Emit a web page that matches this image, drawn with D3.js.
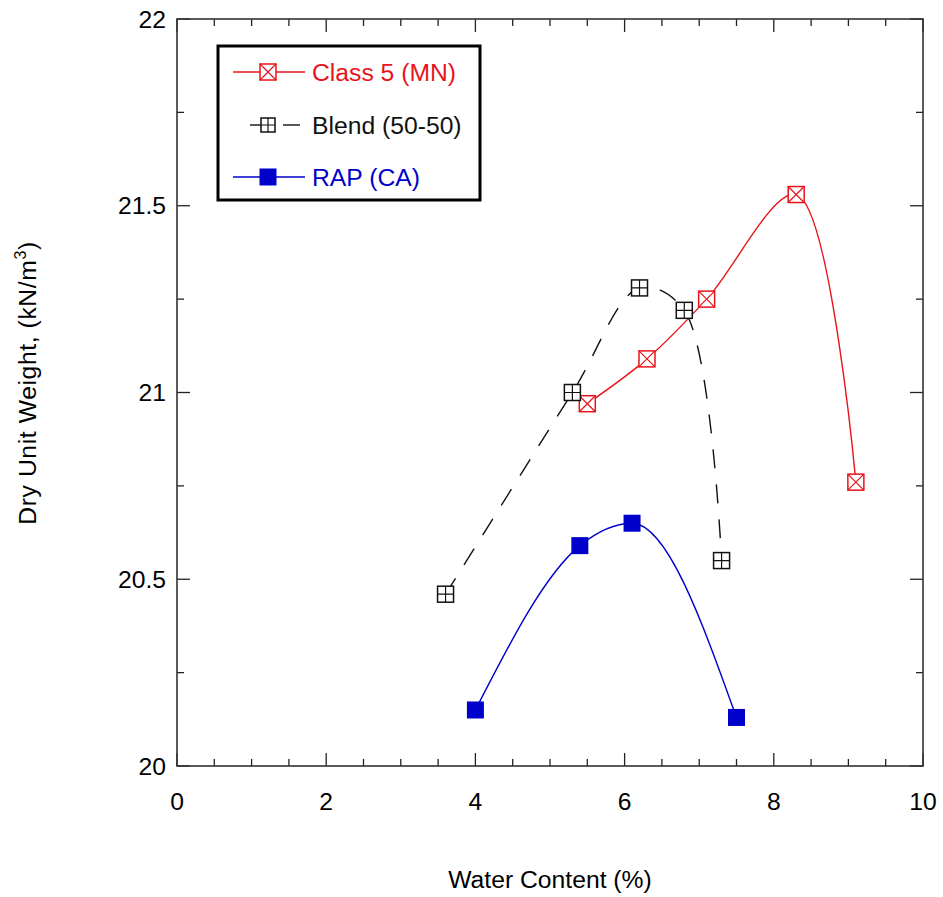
<!DOCTYPE html>
<html><head><meta charset="utf-8">
<script src="https://cdn.jsdelivr.net/npm/d3@7"></script>
<style>body{margin:0;background:#fff}svg{display:block}text{font-family:"Liberation Sans",Arial,sans-serif}</style>
</head><body><svg id="c" width="943" height="897"></svg>
<script>
const class5X = [5.5, 6.3, 7.1, 8.3, 9.1];
const class5Y = [20.97, 21.09, 21.25, 21.53, 20.76];
const blendX = [3.6, 5.3, 6.2, 6.8, 7.3];
const blendY = [20.46, 21.0, 21.28, 21.22, 20.55];
const rapX = [4.0, 5.4, 6.1, 7.5];
const rapY = [20.15, 20.59, 20.65, 20.13];
const xTicks = [0, 2, 4, 6, 8, 10];
const yTicks = [20, 20.5, 21, 21.5, 22];
const seriesNames = ["Class 5 (MN)", "Blend (50-50)", "RAP (CA)"];

const svg = d3.select("#c");
const L = 177, R = 923, T = 19, B = 766;
const x = d3.scaleLinear().domain([0, 10]).range([L, R]);
const y = d3.scaleLinear().domain([20, 22]).range([B, T]);
const FS = 24.7;

// ticks
const g = svg.append("g");
const minorX = d3.range(0, 10.001, 0.5), minorY = d3.range(20, 22.001, 0.25);
minorX.forEach(v => {
  const major = Math.abs(v / 2 - Math.round(v / 2)) < 1e-6;
  const len = major ? 13 : 7;
  g.append("line").attr("x1", x(v)).attr("x2", x(v)).attr("y1", B).attr("y2", B - len).attr("stroke", "#222").attr("stroke-width", 1.3);
  g.append("line").attr("x1", x(v)).attr("x2", x(v)).attr("y1", T).attr("y2", T + len).attr("stroke", "#222").attr("stroke-width", 1.3);
});
minorY.forEach(v => {
  const major = Math.abs(v * 2 - Math.round(v * 2)) < 1e-6;
  const len = major ? 13 : 7;
  g.append("line").attr("y1", y(v)).attr("y2", y(v)).attr("x1", L).attr("x2", L + len).attr("stroke", "#222").attr("stroke-width", 1.3);
  g.append("line").attr("y1", y(v)).attr("y2", y(v)).attr("x1", R).attr("x2", R - len).attr("stroke", "#222").attr("stroke-width", 1.3);
});
svg.append("rect").attr("x", L).attr("y", T).attr("width", R - L).attr("height", B - T)
  .attr("fill", "none").attr("stroke", "#333").attr("stroke-width", 1.6);

// tick labels
xTicks.forEach(v => svg.append("text").attr("x", x(v)).attr("y", 810).attr("text-anchor", "middle")
  .attr("font-size", FS).text(d3.format("d")(v)));
yTicks.forEach(v => svg.append("text").attr("x", 166).attr("y", y(v) + 8.5).attr("text-anchor", "end")
  .attr("font-size", FS).text(v));

svg.append("text").attr("x", 550).attr("y", 888).attr("text-anchor", "middle").attr("font-size", FS).text("Water Content (%)");
const yt = svg.append("text").attr("transform", "translate(36,383) rotate(-90)").attr("text-anchor", "middle").attr("font-size", FS).attr("letter-spacing", 0.6);
yt.append("tspan").text("Dry Unit Weight,  (kN/m");
yt.append("tspan").attr("font-size", 16).attr("dy", -10).text("3");
yt.append("tspan").attr("dy", 10).text(")");

const red = "#e8141b", blue = "#0000cc", black = "#111";
const zip = (a, b) => a.map((v, i) => [v, b[i]]);
const mk = c => d3.line().x(d => x(d[0])).y(d => y(d[1])).curve(c);

svg.append("path").attr("d", mk(d3.curveCatmullRom.alpha(0.5))(zip(class5X, class5Y))).attr("fill", "none").attr("stroke", red).attr("stroke-width", 1.4);
svg.append("path").attr("d", mk(d3.curveCatmullRom.alpha(0.5))(zip(blendX, blendY))).attr("fill", "none").attr("stroke", black).attr("stroke-width", 1.4).attr("stroke-dasharray", "19,16");
svg.append("path").attr("d", mk(d3.curveMonotoneX)(zip(rapX, rapY))).attr("fill", "none").attr("stroke", blue).attr("stroke-width", 1.4);

function boxX(sel, cx, cy, s, col) {
  const h = s / 2;
  sel.append("rect").attr("x", cx - h).attr("y", cy - h).attr("width", s).attr("height", s).attr("fill", "#fff").attr("stroke", col).attr("stroke-width", 1.5);
  sel.append("path").attr("d", `M${cx - h},${cy - h}L${cx + h},${cy + h}M${cx + h},${cy - h}L${cx - h},${cy + h}`).attr("stroke", col).attr("stroke-width", 1.2);
}
function boxPlus(sel, cx, cy, s, col) {
  const h = s / 2;
  sel.append("rect").attr("x", cx - h).attr("y", cy - h).attr("width", s).attr("height", s).attr("fill", "#fff").attr("stroke", col).attr("stroke-width", 1.5);
  sel.append("path").attr("d", `M${cx},${cy - h}L${cx},${cy + h}M${cx - h},${cy}L${cx + h},${cy}`).attr("stroke", col).attr("stroke-width", 1.2);
}
function boxFill(sel, cx, cy, s, col) {
  sel.append("rect").attr("x", cx - s / 2).attr("y", cy - s / 2).attr("width", s).attr("height", s).attr("fill", col);
}
const m = svg.append("g");
zip(class5X, class5Y).forEach(d => boxX(m, x(d[0]), y(d[1]), 16, red));
zip(blendX, blendY).forEach(d => boxPlus(m, x(d[0]), y(d[1]), 16, black));
zip(rapX, rapY).forEach(d => boxFill(m, x(d[0]), y(d[1]), 17, blue));

// legend
const lg = svg.append("g");
lg.append("rect").attr("x", 218).attr("y", 46).attr("width", 262).attr("height", 154).attr("fill", "#fff").attr("stroke", "#000").attr("stroke-width", 3);
const rows = [72, 125, 177], cols = [red, black, blue];
lg.append("line").attr("x1", 233).attr("x2", 305).attr("y1", rows[0]).attr("y2", rows[0]).attr("stroke", red).attr("stroke-width", 1.4);
boxX(lg, 268, rows[0], 16, red);
lg.append("line").attr("x1", 250).attr("x2", 262).attr("y1", rows[1]).attr("y2", rows[1]).attr("stroke", black).attr("stroke-width", 1.4);
lg.append("line").attr("x1", 283).attr("x2", 300).attr("y1", rows[1]).attr("y2", rows[1]).attr("stroke", black).attr("stroke-width", 1.4);
boxPlus(lg, 268, rows[1], 14, black);
lg.append("line").attr("x1", 233).attr("x2", 305).attr("y1", rows[2]).attr("y2", rows[2]).attr("stroke", blue).attr("stroke-width", 1.4);
boxFill(lg, 268, rows[2], 17, blue);
seriesNames.forEach((n, i) => lg.append("text").attr("x", 312).attr("y", rows[i] + 8.5).attr("font-size", FS).attr("fill", cols[i]).text(n));
</script></body></html>
